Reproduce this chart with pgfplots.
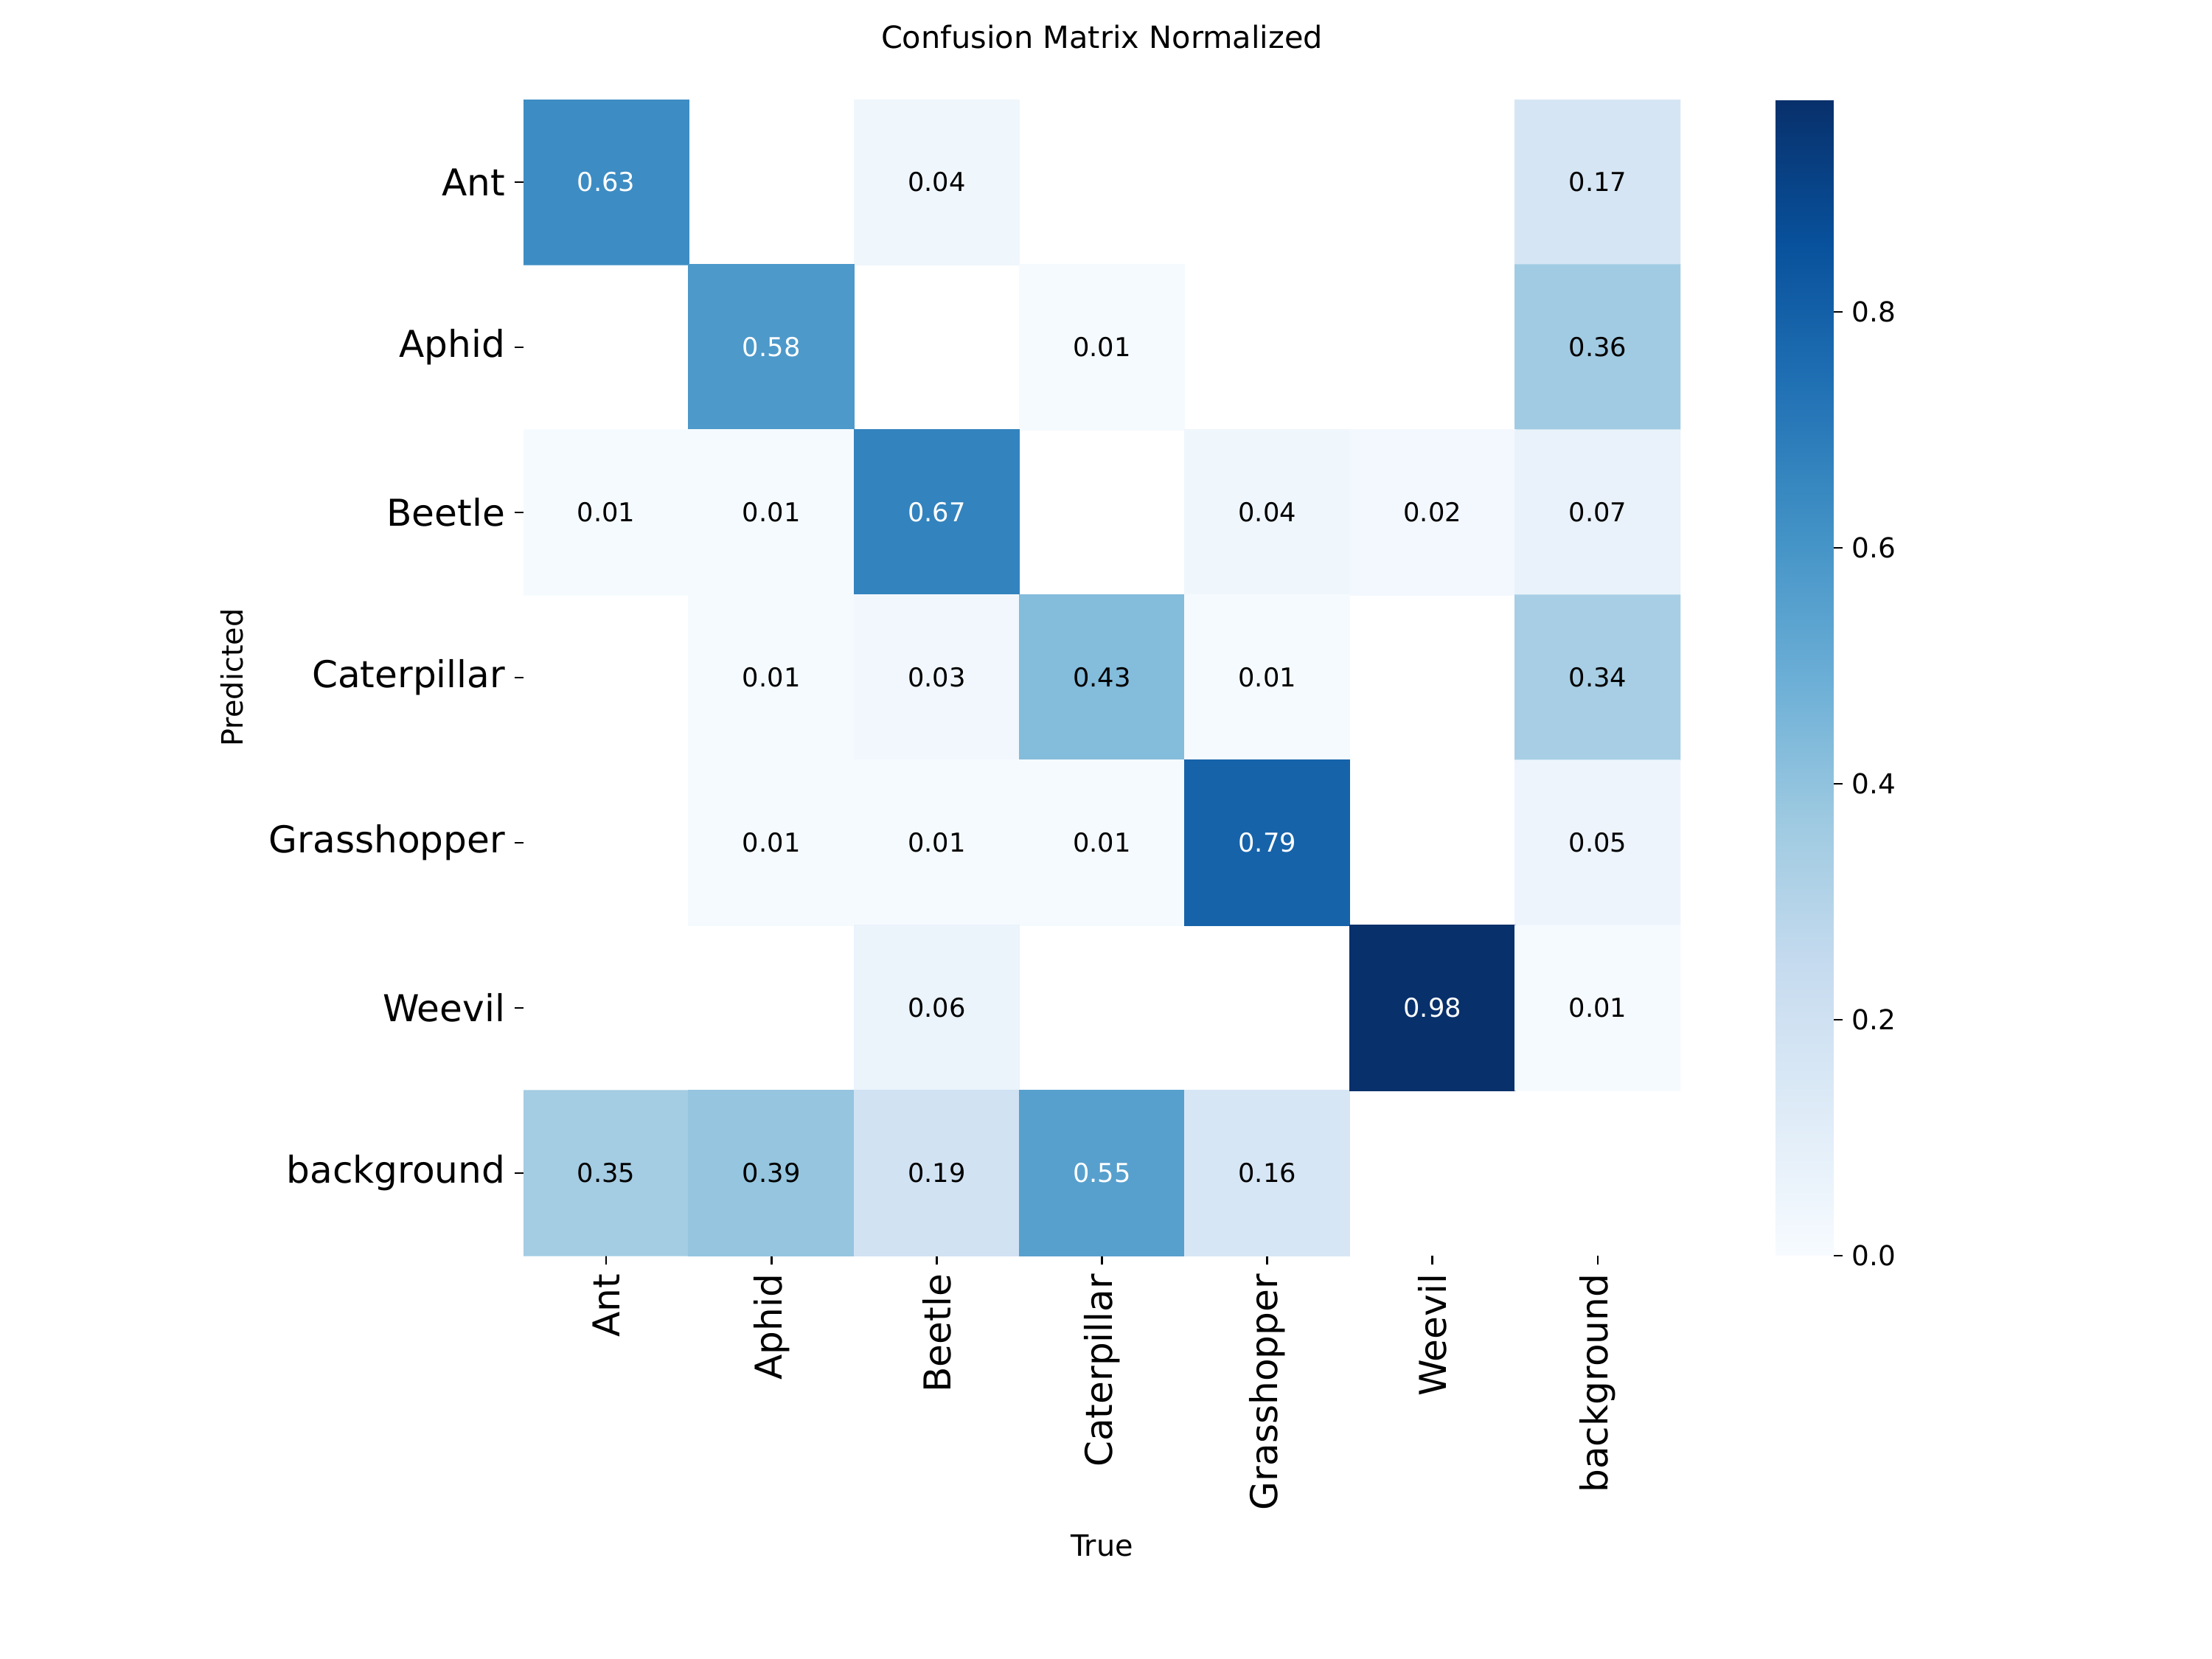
\documentclass[border=0pt]{standalone}
\usepackage{fontspec}
\setmainfont{DejaVu Sans}
\usepackage{pgfplots}
\usepackage{pgfplotstable}
\pgfplotsset{compat=1.18}

% normalized confusion matrix: x = true class, y = predicted class, nan = empty cell
\pgfplotstableread{
x y v
0 0 0.63
1 0 nan
2 0 0.04
3 0 nan
4 0 nan
5 0 nan
6 0 0.17
0 1 nan
1 1 0.58
2 1 nan
3 1 0.01
4 1 nan
5 1 nan
6 1 0.36
0 2 0.01
1 2 0.01
2 2 0.67
3 2 nan
4 2 0.04
5 2 0.02
6 2 0.07
0 3 nan
1 3 0.01
2 3 0.03
3 3 0.43
4 3 0.01
5 3 nan
6 3 0.34
0 4 nan
1 4 0.01
2 4 0.01
3 4 0.01
4 4 0.79
5 4 nan
6 4 0.05
0 5 nan
1 5 nan
2 5 0.06
3 5 nan
4 5 nan
5 5 0.98
6 5 0.01
0 6 0.35
1 6 0.39
2 6 0.19
3 6 0.55
4 6 0.16
5 6 nan
6 6 nan
}\cmtable

\pgfplotsset{
  colormap={blues}{
    rgb255(0cm)=(247,251,255); rgb255(1cm)=(222,235,247);
    rgb255(2cm)=(198,219,239); rgb255(3cm)=(158,202,225);
    rgb255(4cm)=(107,174,214); rgb255(5cm)=(66,146,198);
    rgb255(6cm)=(33,113,181); rgb255(7cm)=(8,81,156);
    rgb255(8cm)=(8,48,107)},
  /pgf/number format/assume math mode=true,
  % value labels; empty cells (nan) print nothing
  cell label/.style={
    only marks, mark=none, unbounded coords=discard,
    point meta=\thisrow{v},
    nodes near coords={%
      \pgfmathfloatparsenumber{\pgfplotspointmeta}%
      \pgfmathfloatgetflagstomacro{\pgfmathresult}{\cellflag}%
      \ifnum\cellflag=3 \else
        \pgfmathprintnumber[fixed,fixed zerofill,precision=2]{\pgfplotspointmeta}%
      \fi},
    every node near coord/.style={anchor=center, inner sep=0pt,
      font=\fontsize{10.2}{12}\selectfont, text=#1},
  },
}

\begin{document}
\begin{tikzpicture}
\useasboundingbox (0,0) rectangle (12in,9in);
\begin{axis}[
  at={(2.84in,2.188in)}, anchor=south west,
  scale only axis, width=6.276in, height=6.272in,
  xmin=-0.5, xmax=6.5, ymin=-0.5, ymax=6.5,
  y dir=reverse, enlargelimits=false,
  axis line style={draw=none},
  xtick={0,...,6}, ytick={0,...,6},
  xticklabels={Ant,Aphid,Beetle,Caterpillar,Grasshopper,Weevil,background},
  yticklabels={Ant,Aphid,Beetle,Caterpillar,Grasshopper,Weevil,background},
  xtick pos=bottom, ytick pos=left,
  tick align=outside, major tick length=3.5pt,
  tick style={draw=black, line width=0.8pt},
  tick label style={font=\fontsize{14.5}{17}\selectfont, inner sep=0pt},
  xticklabel style={rotate=90, anchor=east},
  yticklabel style={anchor=east},
  xticklabel shift=3.5pt, yticklabel shift=3.5pt,
  colormap name=blues,
  point meta min=0, point meta max=0.98,
  title={Confusion Matrix Normalized},
  title style={at={(axis description cs:0.5,1.0313)}, anchor=base,
    font=\fontsize{12}{14}\selectfont},
  xlabel={True},
  xlabel style={at={(axis description cs:0.5,-0.2596)}, anchor=base,
    font=\fontsize{11.5}{14}\selectfont},
  ylabel={Predicted},
  ylabel style={at={(axis description cs:-0.2422,0.5)}, anchor=base, rotate=0,
    font=\fontsize{11.5}{14}\selectfont},
  colorbar,
  colorbar/width=0.312in,
  colorbar style={
    at={(parent axis.north east)}, anchor=north west, xshift=0.4in,
    scale only axis, width=0.312in, height=6.272in,
    axis line style={draw=none},
    ymin=0, ymax=0.98,
    ytick={0,0.2,0.4,0.6,0.8},
    ytick pos=right, yticklabel pos=right,
    tick align=outside, major tick length=3.5pt,
    ytick style={draw=black, line width=0.8pt},
    yticklabel style={font=\fontsize{10.8}{13}\selectfont, inner sep=0pt,
      anchor=west,
      /pgf/number format/fixed, /pgf/number format/fixed zerofill,
      /pgf/number format/precision=1},
    yticklabel shift=3.5pt,
  },
]
\addplot[matrix plot*, mesh/cols=7, point meta=explicit, unbounded coords=jump]
  table[x=x, y=y, meta=v] {\cmtable};
\addplot[cell label=black, restrict expr to domain={\thisrow{v}}{0:0.5}]
  table[x=x, y=y] {\cmtable};
\addplot[cell label=white, restrict expr to domain={\thisrow{v}}{0.5:1}]
  table[x=x, y=y] {\cmtable};
\end{axis}
\end{tikzpicture}
\end{document}
